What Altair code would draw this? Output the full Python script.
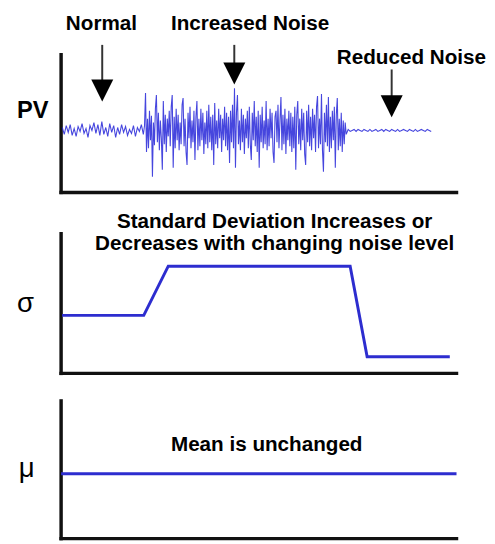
import altair as alt
import pandas as pd

FONT = "Liberation Sans"
BLUE = "#2626d8"
SIG_BLUE = "#2d2dcf"

# ---- Top panel: process variable (PV), three segments (start time, step, values) ----
pv_normal_start, pv_normal_step = 0.3, 0.5
pv_normal = [3, -4, 5, -2, 6, -5, 2, -6, 4, -1, 7, -3, 2, -7, 5, 0, 8, -3, 6, -5, 9,
             -4, 3, -6, 7, -2, 5, -7, 3, -4, 6, -2, 4, -5, 1, -3, 5, -6, 3, -1, 6, -4]

pv_increased_start, pv_increased_step = 21.1, 0.25
pv_increased = [5, 38, -22, 12, -18, 20, -10, 15, -47, 8, -15, 22, 36, -12, 18, -20, 10,
                -8, -40, 30, -14, 16, -22, 12, -6, 20, -16, 24, 36, -38, 14, -18, 22, -10,
                16, -20, 8, -14, 26, 33, -16, 12, -22, -35, 18, -8, 24, -18, 10, -12, 20,
                -30, 14, 30, -20, 12, -16, 22, -10, 18, -24, 8, -14, 20, -18, 26, -12, 14,
                -20, 16, -35, 28, -14, 10, -18, 22, -8, 16, -22, 12, -10, 24, -16, 18, -20,
                14, -33, 20, -12, 26, -18, 43, -38, 18, 36, -14, 10, -20, 22, -12, 16, -24,
                12, -8, 20, -18, 24, -14, -30, 18, -10, 30, -16, 14, -22, 20, -38, 16, -12,
                24, -18, 10, -14, 30, -20, 12, -16, 22, -8, 18, -22, -33, 14, 20, -12, 26,
                -18, 10, 34, -20, 16, -14, 22, -24, 12, -10, 20, -16, 18, -22, 14, -18, 24,
                -40, 16, 30, -14, 12, -20, 22, -10, 18, -24, -35, 20, -12, 26, -16, 14, -20,
                22, -8, 16, -22, 24, 35, -18, 12, -14, 37, -20, -42, 18, -12, 26, -16, 34,
                -22, 14, -18, 20, -10, 24, -38, 16, 33, -20, 12, -16, 18, -22, 10, -14, 8, -4]

pv_reduced_start, pv_reduced_step = 72.6, 0.5
pv_reduced = [1, -1, 0, 1, -1, 1, 0, -1, 1, 0, -1, 1, -1, 0, 1, -1, 0, 1, -1, 1, 0, -1,
              1, 0, -1, 1, -1, 0, 1, 0, -1, 1, 0, -1, 1, -1, 0, 1, 0, -1, 1, 0, -1]

# ---- Middle panel: standard deviation ----
sigma_t = [0.25, 20.9, 27.1, 73.1, 77.4, 98.3]
sigma_v = [59, 59, 109, 109, 17, 17]

# ---- Bottom panel: mean ----
mu_t = [0, 100]
mu_v = [66, 66]

# ---- Annotations ----
top_labels = ["Normal", "Increased Noise", "Reduced Noise"]
top_label_t = [10.2, 47.8, 88.6]
top_label_v = [108, 108, 74]
arrow_t = [10.4, 43.8, 83.6]
arrow_top = [87, 87, 62]
arrow_bottom = [51, 68, 34]
arrow_head = [40.5, 58, 24.5]

sd_title = ["Standard Deviation Increases or", "Decreases with changing noise level"]
sd_title_t = [54, 54]
sd_title_v = [154, 131]
mean_label = ["Mean is unchanged"]
mean_label_t = [52]
mean_label_v = [95]

# axis extents (time 0..100) per panel
ax1 = dict(y0=-63, y1=77)
ax2 = dict(y0=0, y1=142)
ax3 = dict(y0=0, y1=140)

X_DOMAIN = [-13.43, 107.71]
W = 487


def segment(start, step, values):
    return pd.DataFrame({"t": [start + step * i for i in range(len(values))], "v": values})


pv_df = pd.concat([
    segment(pv_normal_start, pv_normal_step, pv_normal),
    segment(pv_increased_start, pv_increased_step, pv_increased),
    segment(pv_reduced_start, pv_reduced_step, pv_reduced),
], ignore_index=True)


def xs():
    return alt.Scale(domain=X_DOMAIN, nice=False, zero=False)


def axes_layer(y0, y1, yscale):
    df = pd.DataFrame({"t": [0, 0], "t2": [0, 100], "v": [y0, y0], "v2": [y1, y0]})
    return alt.Chart(df).mark_rule(color="#111111", strokeWidth=3.5, strokeCap="square").encode(
        x=alt.X("t:Q", scale=xs(), axis=None),
        x2="t2:Q",
        y=alt.Y("v:Q", scale=yscale, axis=None),
        y2="v2:Q",
    )


def text_layer(texts, ts, vs, yscale, size, weight="bold"):
    df = pd.DataFrame({"t": ts, "v": vs, "label": texts})
    return alt.Chart(df).mark_text(font=FONT, fontSize=size, fontWeight=weight,
                                   align="center", baseline="middle", color="#000000").encode(
        x=alt.X("t:Q", scale=xs(), axis=None),
        y=alt.Y("v:Q", scale=yscale, axis=None),
        text="label:N",
    )


# ---------- Panel 1 ----------
y1s = alt.Scale(domain=[-73, 119], nice=False, zero=False)
sig_line = alt.Chart(pv_df).mark_line(color=BLUE, strokeWidth=1.1, opacity=0.85).encode(
    x=alt.X("t:Q", scale=xs(), axis=None),
    y=alt.Y("v:Q", scale=y1s, axis=None),
)
arrows_df = pd.DataFrame({"t": arrow_t, "top": arrow_top, "bottom": arrow_bottom, "head": arrow_head})
shafts = alt.Chart(arrows_df).mark_rule(color="#333333", strokeWidth=2).encode(
    x=alt.X("t:Q", scale=xs(), axis=None),
    y=alt.Y("top:Q", scale=y1s, axis=None),
    y2="bottom:Q",
)
heads = alt.Chart(arrows_df).mark_point(shape="M-1,-1L1,-1L0,1Z", filled=True, size=500,
                                        color="#000000", opacity=1).encode(
    x=alt.X("t:Q", scale=xs(), axis=None),
    y=alt.Y("head:Q", scale=y1s, axis=None),
)
p1 = alt.layer(
    axes_layer(ax1["y0"], ax1["y1"], y1s),
    sig_line,
    shafts,
    heads,
    text_layer(top_labels, top_label_t, top_label_v, y1s, 21),
    text_layer(["PV"], [-7.2], [20], y1s, 24),
).properties(width=W, height=192)

# ---------- Panel 2 ----------
y2s = alt.Scale(domain=[-6, 174], nice=False, zero=False)
sigma_df = pd.DataFrame({"t": sigma_t, "v": sigma_v})
sigma_line = alt.Chart(sigma_df).mark_line(color=SIG_BLUE, strokeWidth=3).encode(
    x=alt.X("t:Q", scale=xs(), axis=None),
    y=alt.Y("v:Q", scale=y2s, axis=None),
)
p2 = alt.layer(
    axes_layer(ax2["y0"], ax2["y1"], y2s),
    sigma_line,
    text_layer(sd_title, sd_title_t, sd_title_v, y2s, 21),
    text_layer(["σ"], [-9], [70], y2s, 28, weight="normal"),
).properties(width=W, height=180)

# ---------- Panel 3 ----------
y3s = alt.Scale(domain=[-2, 162], nice=False, zero=False)
mu_df = pd.DataFrame({"t": mu_t, "v": mu_v})
mu_line = alt.Chart(mu_df).mark_line(color=SIG_BLUE, strokeWidth=3).encode(
    x=alt.X("t:Q", scale=xs(), axis=None),
    y=alt.Y("v:Q", scale=y3s, axis=None),
)
p3 = alt.layer(
    axes_layer(ax3["y0"], ax3["y1"], y3s),
    mu_line,
    text_layer(mean_label, mean_label_t, mean_label_v, y3s, 21),
    text_layer(["μ"], [-8.7], [71], y3s, 28, weight="normal"),
).properties(width=W, height=164)

chart = alt.vconcat(p1, p2, p3, spacing=0, bounds="flush").properties(
    padding=0
).configure_view(stroke=None, fill="white")

chart.save("out.html", embed_options={"renderer": "svg", "actions": False})
